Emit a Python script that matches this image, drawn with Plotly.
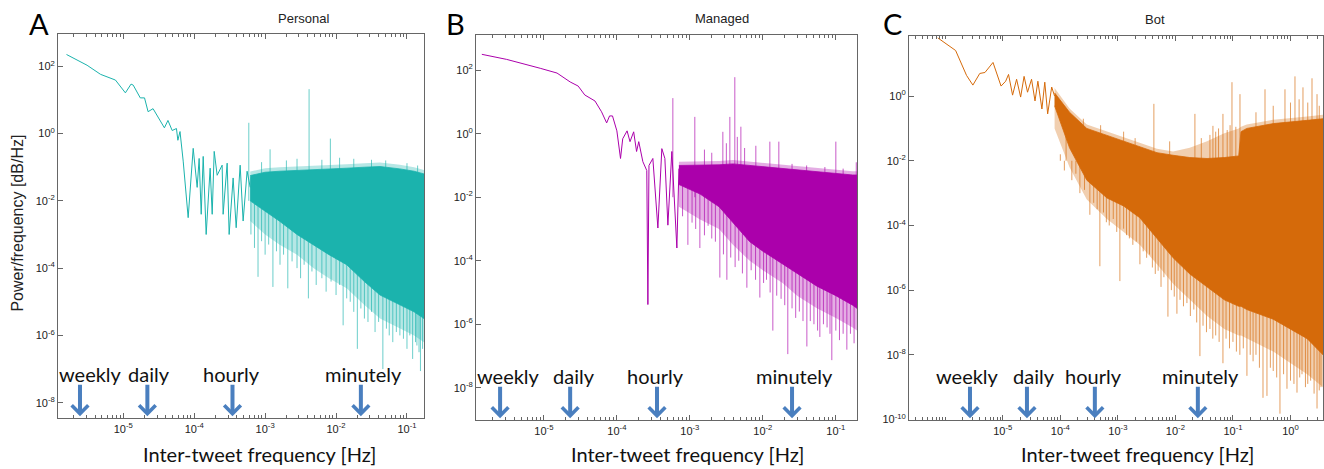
import plotly.graph_objects as go

W, H = 1324, 469

# ---------------- data (in decades: log10 Hz / log10 power) -------------
panel_titles = ["Personal", "Managed", "Bot"]
panel_letters = ["A", "B", "C"]
arrow_labels = ["weekly", "daily", "hourly", "minutely"]

# ---- Personal
personal_line_logf = [-5.80, -5.51, -5.32, -5.11, -4.97, -4.89, -4.86, -4.76, -4.70, -4.65, -4.58, -4.52,
                      -4.42, -4.37, -4.31, -4.25, -4.23, -4.20, -4.155, -4.085, -4.014, -3.958, -3.930,
                      -3.901, -3.873, -3.831, -3.775, -3.746, -3.718, -3.676, -3.606, -3.592, -3.535,
                      -3.507, -3.451, -3.408, -3.352, -3.310, -3.254, -3.21]
personal_line_logp = [2.35, 2.03, 1.76, 1.59, 1.21, 1.47, 1.44, 1.06, 1.06, 0.65, 0.74, 0.53,
                      0.17, 0.39, 0.09, 0.15, -0.20, 0.06, -0.82, -2.5, -0.44, -1.6, -0.74,
                      -2.4, -0.68, -3.0, -1.03, -2.4, -0.53, -1.24, -0.94, -2.4, -0.88,
                      -3.0, -1.32, -2.8, -0.94, -2.6, -1.12, -1.6]
personal_band_logf = [-3.21, -3.00, -2.80, -2.55, -2.32, -2.10, -1.85, -1.60, -1.38, -1.10, -0.90, -0.76]
personal_band_top = [-1.25, -1.15, -1.12, -1.10, -1.08, -1.05, -1.03, -1.00, -0.98, -1.05, -1.12, -1.20]
personal_band_bot = [-2.0, -2.3, -2.6, -3.0, -3.3, -3.6, -3.9, -4.4, -4.8, -5.1, -5.3, -5.5]
personal_fringe_top = [-1.13, -1.03, -1.0, -0.98, -0.96, -0.93, -0.91, -0.88, -0.86, -0.93, -1.0, -1.08]
personal_fringe_bot = [-2.6, -3.0, -3.3, -3.6, -4.0, -4.3, -4.6, -5.1, -5.5, -5.8, -6.0, -6.2]
personal_peak_logf = [-3.23, -2.93, -2.38, -2.08, -3.05, -2.70, -2.55, -2.20, -1.95, -1.75, -1.50, -1.30,
                      -1.00, -0.85]
personal_peak_logp = [0.32, -0.47, 1.32, -0.15, -0.85, -0.80, -0.75, -0.78, -0.72, -0.75, -0.78, -0.80,
                      -0.88, -0.95]
personal_dip_logf = [-3.20, -3.15, -3.10, -3.05, -3.00, -2.95, -2.89, -2.84, -2.79, -2.74, -2.68, -2.62,
                     -2.55, -2.50, -2.45, -2.39, -2.34, -2.28, -2.20, -2.14, -2.07, -2.00, -1.95, -1.90,
                     -1.85, -1.80, -1.75, -1.70, -1.65, -1.60, -1.55, -1.50, -1.45, -1.40, -1.34, -1.29,
                     -1.25, -1.20, -1.15, -1.10, -1.05, -1.00, -0.96, -0.92, -0.88, -0.86, -0.83, -0.81, -0.78]
personal_dip_logp = [-3.0, -3.4, -4.26, -3.2, -3.6, -3.3, -4.56, -3.5, -3.9, -3.6, -4.6, -3.8,
                     -4.0, -4.3, -3.9, -4.9, -4.1, -4.5, -4.3, -4.7, -4.4, -4.8, -4.5, -5.7,
                     -4.9, -5.0, -5.3, -6.4, -5.2, -5.5, -5.6, -5.3, -5.9, -5.6, -7.0, -5.8,
                     -6.0, -6.2, -5.9, -6.0, -6.1, -6.4, -6.0, -6.7, -6.2, -6.3, -6.5, -7.06, -6.4]
personal_arrow_logf = [-5.61, -4.66, -3.46, -1.65]
personal_label_logf = [-5.465, -4.634, -3.479, -1.620]

# ---- Managed
managed_line_logf = [-5.85, -5.51, -5.05, -4.82, -4.64, -4.53, -4.44, -4.30, -4.21, -4.14, -4.10, -4.06,
                     -4.00, -3.95, -3.92, -3.86, -3.82, -3.77, -3.73, -3.70, -3.644, -3.59, -3.575, -3.56,
                     -3.507, -3.438, -3.384, -3.342, -3.301, -3.247, -3.178, -3.15]
managed_line_logp = [2.5, 2.34, 2.06, 1.91, 1.63, 1.5, 1.22, 1.03, 0.69, 0.34, 0.56, 0.56,
                     0.09, -0.78, -0.16, 0.09, -0.25, 0.06, -0.56, -0.25, -0.88, -1.16, -5.38, -1.0,
                     -0.78, -2.97, -0.47, -0.78, -2.88, -0.56, -3.6, -1.1]
managed_band_logf = [-3.15, -2.86, -2.60, -2.41, -2.18, -2.00, -1.73, -1.53, -1.26, -1.00, -0.77, -0.71]
managed_band_top = [-1.0, -1.0, -0.98, -0.95, -1.0, -1.05, -1.1, -1.15, -1.2, -1.25, -1.3, -1.3]
managed_band_bot = [-1.6, -1.9, -2.3, -2.8, -3.4, -3.7, -4.1, -4.4, -4.8, -5.1, -5.4, -5.5]
managed_fringe_top = [-0.88, -0.88, -0.86, -0.83, -0.88, -0.93, -0.98, -1.03, -1.08, -1.13, -1.18, -1.18]
managed_fringe_bot = [-2.3, -2.7, -3.0, -3.5, -4.0, -4.3, -4.7, -5.1, -5.5, -5.8, -6.1, -6.2]
managed_peak_logf = [-3.233, -2.932, -2.548, -2.50, -2.452, -2.384, -2.35, -2.301, -2.25, -2.096, -1.904,
                     -1.781, -1.00, -2.70, -2.80, -1.60, -1.40, -1.15, -0.90, -0.72]
managed_peak_logp = [1.12, 0.53, 0.06, -0.3, 0.53, 1.78, -0.1, 0.22, -0.45, -0.38, -0.25, -0.25, -0.25,
                     -0.6, -0.5, -0.95, -1.0, -1.05, -1.1, -0.9]
managed_dip_logf = [-3.10, -3.027, -2.97, -2.92, -2.863, -2.80, -2.75, -2.70, -2.65, -2.589, -2.54, -2.493,
                    -2.44, -2.38, -2.33, -2.28, -2.219, -2.16, -2.10, -2.041, -1.99, -1.95, -1.90, -1.863,
                    -1.81, -1.75, -1.70, -1.658, -1.60, -1.55, -1.50, -1.45, -1.397, -1.35, -1.30, -1.25,
                    -1.219, -1.17, -1.12, -1.08, -1.055, -1.00, -0.95, -0.90, -0.849, -0.80, -0.75]
managed_dip_logp = [-2.6, -3.5, -2.8, -3.0, -3.6, -3.2, -2.9, -3.3, -3.4, -4.53, -3.8, -4.6,
                    -3.9, -4.2, -4.0, -4.4, -4.85, -4.3, -4.6, -5.16, -4.7, -4.6, -5.0, -6.2,
                    -5.1, -5.2, -5.4, -6.94, -5.5, -5.8, -5.6, -5.9, -6.7, -5.9, -6.0, -6.2,
                    -6.4, -6.0, -6.1, -6.3, -7.13, -6.2, -6.5, -6.3, -6.8, -6.3, -6.6]
managed_arrow_logf = [-5.60, -4.64, -3.45, -1.60]
managed_label_logf = [-5.479, -4.589, -3.466, -1.562]

# ---- Bot
bot_line_logf = [-6.13, -5.82, -5.63, -5.52, -5.40, -5.31, -5.17, -5.03, -4.95, -4.90, -4.83, -4.76,
                 -4.69, -4.63, -4.57, -4.50, -4.44, -4.39, -4.32, -4.27, -4.22, -4.15, -4.10]
bot_line_logp = [1.80, 1.41, 0.64, 0.34, 0.70, 0.73, 1.04, 0.31, 0.46, 0.67, 0.03, 0.52,
                 -0.03, 0.61, 0.12, 0.52, -0.15, 0.46, -0.40, 0.43, -0.55, 0.28, 0.0]
bot_band_logf = [-4.10, -3.84, -3.54, -3.19, -2.90, -2.62, -2.32, -2.04, -1.75, -1.45, -1.15, -0.90,
                 -0.86, -0.76, -0.30, 0.29, 0.565]
bot_band_top = [0.1, -0.5, -1.0, -1.22, -1.40, -1.56, -1.75, -1.83, -1.90, -1.93, -1.90, -1.85,
                -1.1, -1.0, -0.85, -0.75, -0.7]
bot_band_bot = [-0.3, -1.6, -2.6, -3.15, -3.4, -3.76, -4.4, -5.0, -5.5, -5.9, -6.3, -6.5,
                -6.5, -6.6, -6.9, -7.5, -8.0]
bot_fringe_top = [0.25, -0.38, -0.88, -1.10, -1.28, -1.44, -1.63, -1.71, -1.6, -1.4, -1.15, -1.0,
                  -0.95, -0.88, -0.73, -0.63, -0.58]
bot_fringe_bot = [-1.0, -2.2, -3.2, -3.8, -4.2, -4.6, -5.2, -5.8, -6.3, -6.8, -7.2, -7.4,
                  -7.4, -7.5, -7.9, -8.6, -9.0]
bot_peak_logf = [-2.374, -1.661, -1.348, -1.174, -1.017, -0.878, -0.443, -0.096, 0.078, 0.217, 0.374, 0.461,
                 -3.90, -3.60, -3.30, -2.90, -2.70, -2.10, -1.55, -1.40, -1.25, -1.10, -0.95, -1.30, -1.05,
                 -0.60, -0.30, 0.0, 0.15, 0.30, 0.50]
bot_peak_logp = [-0.24, -0.55, -0.92, -0.55, 0.43, 0.06, 0.21, 0.21, 0.61, 0.27, 0.55, 0.06,
                 -0.45, -0.7, -0.9, -1.1, -1.3, -1.4, -1.3, -1.2, -1.0, -1.05, -0.95, -1.1, -0.9,
                 -0.5, -0.3, -0.2, -0.1, -0.2, -0.3]
bot_dip_logf = [-4.00, -3.93, -3.87, -3.80, -3.73, -3.66, -3.58, -3.487, -3.42, -3.36, -3.313, -3.25,
                -3.20, -3.15, -3.08, -3.02, -2.965, -2.90, -2.85, -2.80, -2.74, -2.68, -2.617, -2.56,
                -2.50, -2.45, -2.40, -2.35, -2.30, -2.25, -2.20, -2.13, -2.07, -2.02, -1.974, -1.92,
                -1.86, -1.80, -1.74, -1.68, -1.63, -1.574, -1.52, -1.46, -1.40, -1.35, -1.30, -1.24,
                -1.174, -1.12, -1.06, -1.00, -0.94, -0.88, -0.82, -0.757, -0.70, -0.65, -0.60, -0.54,
                -0.478, -0.409, -0.35, -0.30, -0.24, -0.183, -0.12, -0.061, 0.0, 0.06, 0.113, 0.16,
                0.20, 0.26, 0.30, 0.35, 0.41, 0.461, 0.50, 0.53]
bot_dip_logp = [-1.8, -2.3, -2.0, -2.6, -2.4, -3.0, -2.9, -3.67, -3.3, -3.5, -5.26, -3.6,
                -3.9, -4.0, -3.8, -4.2, -5.72, -4.1, -4.3, -4.4, -4.6, -4.5, -5.2, -4.8,
                -5.0, -4.9, -5.3, -5.5, -5.4, -5.9, -5.6, -6.82, -6.0, -6.2, -6.73, -6.3,
                -6.5, -6.4, -6.8, -6.6, -7.0, -8.04, -7.1, -7.3, -7.2, -7.5, -7.4, -7.6,
                -8.26, -7.5, -7.8, -7.6, -7.9, -8.0, -7.8, -8.65, -8.0, -8.2, -8.0, -8.4,
                -9.33, -9.27, -8.4, -8.5, -8.7, -9.82, -8.6, -9.05, -8.8, -8.9, -9.17, -8.7,
                -8.6, -9.0, -8.9, -8.8, -9.2, -9.66, -9.1, -9.0]
bot_arrow_logf = [-5.57, -4.58, -3.40, -1.61]
bot_label_logf = [-5.609, -4.461, -3.417, -1.557]

# axis ranges (decades) and tick exponents
x_ranges = [[-5.92, -0.76], [-5.93, -0.71], [-6.63, 0.565]]
y_ranges = [[-8.47, 2.97], [-9.03, 3.12], [-10.03, 1.87]]
x_tick_exps = [[-5, -4, -3, -2, -1], [-5, -4, -3, -2, -1], [-5, -4, -3, -2, -1, 0]]
y_tick_exps = [[-8, -6, -4, -2, 0, 2], [-8, -6, -4, -2, 0, 2], [-10, -8, -6, -4, -2, 0]]

# ---------------- styling / layout -------------
colors = ["#1bb3ad", "#ab00ab", "#d56a0a"]
light = ["rgba(27,179,173,0.65)", "rgba(171,0,171,0.65)", "rgba(213,106,10,0.65)"]
faint = ["rgba(27,179,173,0.32)", "rgba(171,0,171,0.32)", "rgba(213,106,10,0.32)"]
arrow_blue = "#4a7fbf"
dip_base = [-1.3, -1.4, -2.0]   # where hairlines start (hidden under the dense band)
peak_base = [-2.0, -2.0, -2.0]

# plot boxes in pixels: (left, right, top, bottom)
boxes = [(58, 424, 34, 423), (476, 857, 35, 425), (909, 1323, 36, 425)]

panels = [
    dict(lf=personal_line_logf, lp=personal_line_logp, bf=personal_band_logf, bt=personal_band_top,
         bb=personal_band_bot, ft=personal_fringe_top, fb=personal_fringe_bot,
         pf=personal_peak_logf, pp=personal_peak_logp, df=personal_dip_logf, dp=personal_dip_logp,
         af=personal_arrow_logf, tf=personal_label_logf),
    dict(lf=managed_line_logf, lp=managed_line_logp, bf=managed_band_logf, bt=managed_band_top,
         bb=managed_band_bot, ft=managed_fringe_top, fb=managed_fringe_bot,
         pf=managed_peak_logf, pp=managed_peak_logp, df=managed_dip_logf, dp=managed_dip_logp,
         af=managed_arrow_logf, tf=managed_label_logf),
    dict(lf=bot_line_logf, lp=bot_line_logp, bf=bot_band_logf, bt=bot_band_top,
         bb=bot_band_bot, ft=bot_fringe_top, fb=bot_fringe_bot,
         pf=bot_peak_logf, pp=bot_peak_logp, df=bot_dip_logf, dp=bot_dip_logp,
         af=bot_arrow_logf, tf=bot_label_logf),
]


def lin(v):
    return [10 ** e for e in v]


fig = go.Figure()
annotations = []
label_font = dict(family="Lato, Open Sans, sans-serif", size=20, color="#111")
tick_font = dict(family="Liberation Sans, Arial, sans-serif", size=11, color="#222")

for i, p in enumerate(panels):
    xa = "x" if i == 0 else f"x{i+1}"
    ya = "y" if i == 0 else f"y{i+1}"
    col, lcol, fcol = colors[i], light[i], faint[i]

    # faint fringe of the dense band
    fig.add_trace(go.Scatter(x=lin(p["bf"]) + lin(p["bf"][::-1]), y=lin(p["ft"]) + lin(p["fb"][::-1]),
                             mode="lines", fill="toself", fillcolor=fcol, line=dict(width=0),
                             xaxis=xa, yaxis=ya, showlegend=False, hoverinfo="skip"))
    # hairlines: dips and peaks
    sx, sy = [], []
    for f, v in zip(p["df"], p["dp"]):
        sx += [10 ** f, 10 ** f, None]
        sy += [10 ** v, 10 ** dip_base[i], None]
    for f, v in zip(p["pf"], p["pp"]):
        sx += [10 ** f, 10 ** f, None]
        sy += [10 ** peak_base[i], 10 ** v, None]
    fig.add_trace(go.Scatter(x=sx, y=sy, mode="lines", line=dict(color=lcol, width=1),
                             xaxis=xa, yaxis=ya, showlegend=False, hoverinfo="skip"))
    # dense band
    fig.add_trace(go.Scatter(x=lin(p["bf"]) + lin(p["bf"][::-1]), y=lin(p["bt"]) + lin(p["bb"][::-1]),
                             mode="lines", fill="toself", fillcolor=col,
                             line=dict(color=col, width=0.8), xaxis=xa, yaxis=ya,
                             showlegend=False, hoverinfo="skip"))
    # low frequency line
    fig.add_trace(go.Scatter(x=lin(p["lf"]), y=lin(p["lp"]), mode="lines",
                             line=dict(color=col, width=1), xaxis=xa, yaxis=ya,
                             showlegend=False, hoverinfo="skip"))

    l, r, t, b = boxes[i]
    dom_x = [l / W, r / W]
    dom_y = [1 - b / H, 1 - t / H]
    common = dict(type="log", showline=True, linecolor="#666", linewidth=1, ticks="inside",
                  ticklen=5, tickcolor="#666", showgrid=False, zeroline=False, tickfont=tick_font)
    fig.update_layout(**{
        ("xaxis" if i == 0 else f"xaxis{i+1}"): dict(
            common, domain=dom_x, range=x_ranges[i], anchor=ya, mirror="ticks",
            tickmode="array", tickvals=lin(x_tick_exps[i]),
            ticktext=[f"10<sup>{e}</sup>" for e in x_tick_exps[i]],
            minor=dict(tickmode="linear", tick0=0, dtick="D1", ticks="inside", ticklen=3,
                       tickcolor="#666", showgrid=False)),
        ("yaxis" if i == 0 else f"yaxis{i+1}"): dict(
            common, domain=dom_y, range=y_ranges[i], anchor=xa, mirror=True,
            tickmode="array", tickvals=lin(y_tick_exps[i]),
            ticktext=[f"10<sup>{e}</sup>" for e in y_tick_exps[i]]),
    })

    # arrows and labels
    for lab, af, tf in zip(arrow_labels, p["af"], p["tf"]):
        annotations.append(dict(x=af, y=0.006, xref=xa, yref=f"{ya} domain", text="", showarrow=True,
                                ax=0, ay=-33, arrowhead=4, arrowsize=0.8, arrowwidth=4,
                                arrowcolor=arrow_blue))
        annotations.append(dict(x=tf, y=0.115, xref=xa, yref=f"{ya} domain", text=lab, showarrow=False,
                                xanchor="center", yanchor="middle", font=label_font))

# titles, panel letters, axis titles
title_px = [(303, 19), (722, 19), (1155, 20)]
letter_px = [(39, 24), (455, 24), (892, 24)]
xtitle_px = [(259, 459), (687, 459), (1137, 459)]
for i in range(3):
    annotations.append(dict(x=title_px[i][0] / W, y=1 - title_px[i][1] / H, xref="paper", yref="paper",
                            text=panel_titles[i], showarrow=False, xanchor="center", yanchor="middle",
                            font=dict(family="Liberation Sans, Arial", size=13, color="#222")))
    annotations.append(dict(x=letter_px[i][0] / W, y=1 - letter_px[i][1] / H, xref="paper", yref="paper",
                            text=panel_letters[i], showarrow=False, xanchor="center", yanchor="middle",
                            font=dict(family="Lato, Open Sans, sans-serif", size=29, color="#000")))
    annotations.append(dict(x=xtitle_px[i][0] / W, y=1 - xtitle_px[i][1] / H, xref="paper", yref="paper",
                            text="Inter-tweet frequency [Hz]", showarrow=False, xanchor="center",
                            yanchor="middle", font=label_font))
annotations.append(dict(x=18 / W, y=1 - 226 / H, xref="paper", yref="paper", text="Power/frequency [dB/Hz]",
                        showarrow=False, textangle=-90, xanchor="center", yanchor="middle",
                        font=dict(family="Liberation Sans, Arial", size=16, color="#222")))

fig.update_layout(width=W, height=H, margin=dict(l=0, r=0, t=0, b=0), paper_bgcolor="white",
                  plot_bgcolor="white", annotations=annotations, showlegend=False)

fig.write_html("out.html", config={"displayModeBar": False},
               post_script="document.body.style.margin='0';")
